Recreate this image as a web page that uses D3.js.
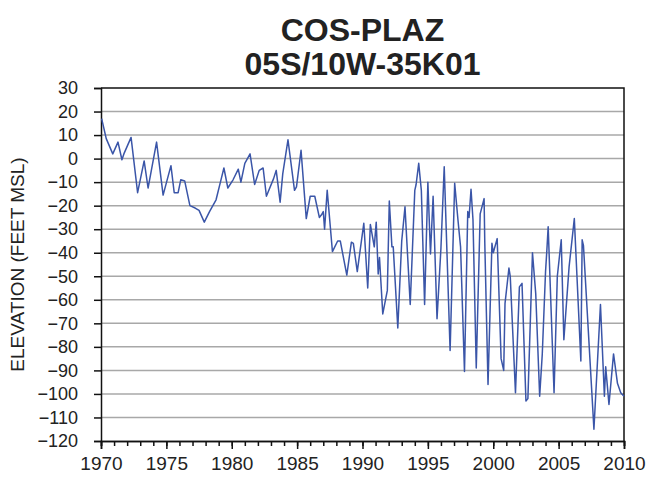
<!DOCTYPE html>
<html>
<head>
<meta charset="utf-8">
<script src="https://cdn.jsdelivr.net/npm/d3@7"></script>
<style>
body { margin: 0; background: #fff; }
svg { font-family: "Liberation Sans", Arial, sans-serif; }
</style>
</head>
<body>
<script>
// decimal years
var years = [1970.05, 1970.4, 1970.9, 1971.3, 1971.6, 1971.75, 1972.3, 1972.8, 1973.3, 1973.6,
  1974.25, 1974.75, 1975.35, 1975.6, 1975.9, 1976.1, 1976.4, 1976.8, 1977.2, 1977.5,
  1977.9, 1978.3, 1978.8, 1979.2, 1979.4, 1979.7, 1980.1, 1980.5, 1980.7, 1981.0,
  1981.4, 1981.75, 1982.1, 1982.4, 1982.65, 1983.2, 1983.4, 1983.7, 1983.9, 1984.3,
  1984.8, 1984.95, 1985.3, 1985.7, 1986.0, 1986.35, 1986.7, 1986.85, 1987.0, 1987.1,
  1987.3, 1987.7, 1988.1, 1988.3, 1988.8, 1989.15, 1989.3, 1989.6, 1990.1, 1990.4,
  1990.6, 1990.9, 1991.05, 1991.2, 1991.3, 1991.55, 1991.9, 1992.05, 1992.25, 1992.35,
  1992.7, 1993.0, 1993.25, 1993.65, 1994.0, 1994.1, 1994.3, 1994.5, 1994.75, 1995.0,
  1995.2, 1995.4, 1995.7, 1996.0, 1996.25, 1996.7, 1997.05, 1997.3, 1997.5, 1997.8,
  1998.05, 1998.15, 1998.3, 1998.45, 1998.7, 1999.0, 1999.3, 1999.35, 1999.6, 1999.9,
  2000.0, 2000.3, 2000.6, 2000.8, 2000.9, 2001.2, 2001.3, 2001.7, 2002.0, 2002.2,
  2002.5, 2002.65, 2003.0, 2003.25, 2003.55, 2003.75, 2004.0, 2004.1, 2004.2, 2004.65,
  2004.9, 2005.2, 2005.4, 2005.8, 2006.2, 2006.7, 2006.8, 2006.9, 2007.7, 2008.2,
  2008.5, 2008.6, 2008.85, 2009.2, 2009.5, 2009.75, 2010.0];

var elevation = [17, 8.5, 2, 7, -0.5, 2, 9, -14.5, -1, -12.5,
  7, -15.5, -3, -14.5, -14.5, -9, -9.5, -20, -21, -22,
  -27, -22.5, -17.5, -8.5, -4, -12.5, -9, -4.5, -10, -2,
  2, -11, -5, -4, -16, -8.5, -5, -18.5, -6.5, 8,
  -13.5, -12, 3.5, -25.5, -16, -16, -25, -24, -22.5, -30,
  -13.5, -39.5, -35, -35, -49.5, -35.5, -36, -48, -27.5, -55,
  -28, -37.5, -27, -49, -42, -66, -56, -18, -37.5, -37.5,
  -72, -35, -20.5, -62, -13.5, -11, -2, -13.5, -62, -10,
  -40.5, -16, -68, -38, -3.5, -81.5, -10.5, -26, -37.5, -90.5,
  -22.5, -25, -13, -26, -89, -23.5, -17, -35, -96, -36,
  -40, -34, -85, -90, -61.5, -46.5, -50, -99.5, -54.5, -53,
  -103, -102, -40, -57.5, -101, -83, -48, -39, -29, -99.5,
  -50, -34.5, -77, -46, -25.5, -86, -34.5, -37, -115, -62,
  -101, -88.5, -104.5, -83, -95.5, -99.5, -101];

var titleLines = ["COS-PLAZ", "05S/10W-35K01"];
var yLabel = "ELEVATION (FEET MSL)";
var yTicks = d3.range(30, -121, -10);
var xMajor = d3.range(1970, 2011, 5);
var xMinor = d3.range(1970, 2011, 1);

var w = 647, h = 483;
var plotL = 101, plotR = 624, plotT = 88, plotB = 441;

var svg = d3.select("body").append("svg").attr("width", w).attr("height", h);

var x = d3.scaleLinear().domain([1970, 2010]).range([plotL, plotR]);
var y = d3.scaleLinear().domain([-120, 30]).range([plotB, plotT]);

// title
svg.selectAll(".title").data(titleLines).enter().append("text")
  .attr("class", "title")
  .attr("x", (plotL + plotR) / 2)
  .attr("y", function(d, i) { return 41 + i * 34; })
  .attr("text-anchor", "middle")
  .attr("font-size", 32).attr("font-weight", "bold").attr("fill", "#222")
  .text(function(d) { return d; });

// horizontal grid
svg.append("g").selectAll("line").data(yTicks.filter(function(d) { return d > -120 && d < 30; }))
  .enter().append("line")
  .attr("x1", plotL).attr("x2", plotR)
  .attr("y1", function(d) { return y(d); }).attr("y2", function(d) { return y(d); })
  .attr("stroke", "#a8a8a8").attr("stroke-width", 1.5);

// frame top/right
svg.append("path")
  .attr("d", "M" + plotL + "," + plotT + "H" + plotR + "V" + plotB)
  .attr("fill", "none").attr("stroke", "#111").attr("stroke-width", 1.5);

// y axis
var yAxis = svg.append("g").attr("transform", "translate(" + plotL + ",0)")
  .call(d3.axisLeft(y).tickValues(yTicks).tickSize(7).tickPadding(16).tickFormat(d3.format("d")));
yAxis.selectAll("text").attr("font-size", 18).attr("fill", "#222").attr("font-family", null);
yAxis.selectAll("line, path").attr("stroke", "#111").attr("stroke-width", 1.5);

// x minor ticks
var xMin = svg.append("g").attr("transform", "translate(0," + plotB + ")")
  .call(d3.axisBottom(x).tickValues(xMinor).tickSize(5).tickFormat(""));
xMin.selectAll("line, path").attr("stroke", "#111").attr("stroke-width", 1.5);

// x major ticks
var xAxis = svg.append("g").attr("transform", "translate(0," + plotB + ")")
  .call(d3.axisBottom(x).tickValues(xMajor).tickSize(8).tickPadding(8).tickFormat(d3.format("d")));
xAxis.selectAll("text").attr("font-size", 19).attr("fill", "#222").attr("font-family", null);
xAxis.selectAll("line, path").attr("stroke", "#111").attr("stroke-width", 1.5);

// y label
svg.append("text")
  .attr("transform", "translate(24," + (plotT + plotB) / 2 + ") rotate(-90)")
  .attr("text-anchor", "middle")
  .attr("font-size", 19).attr("fill", "#222")
  .text(yLabel);

// water level line
var line = d3.line()
  .x(function(d, i) { return x(years[i]); })
  .y(function(d) { return y(d); });

svg.append("path")
  .datum(elevation)
  .attr("d", line)
  .attr("fill", "none")
  .attr("stroke", "#3a55a8")
  .attr("stroke-width", 1.5)
  .attr("stroke-linejoin", "round");
</script>
</body>
</html>
